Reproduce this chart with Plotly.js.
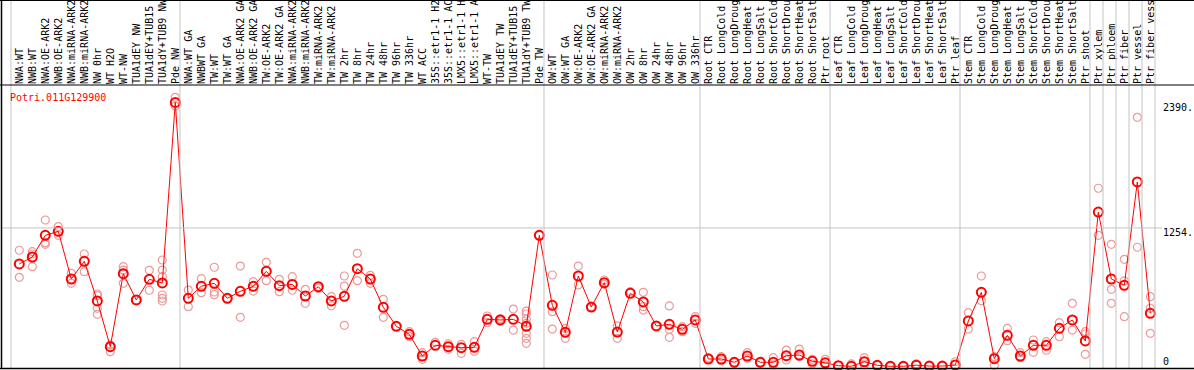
<!DOCTYPE html>
<html>
<head>
<meta charset="utf-8">
<script src="https://cdn.plot.ly/plotly-3.0.1.min.js"></script>
<style>html,body{margin:0;padding:0;background:#fff;}#chart{width:1194px;height:370px;}</style>
</head>
<body>
<div id="chart"></div>
<script>
const chartTitle = 'Potri.011G129900';

const categories = [
  'NWA:WT','NWB:WT','NWA:OE-ARK2','NWB:OE-ARK2','NWA:miRNA-ARK2','NWB:miRNA-ARK2','NW 0hr','WT H2O','WT-NW',
  'TUA1dEY NW','TUA1dEY+TUB15','TUA1dY+TUB9 NW','Pde NW',
  'NWA:WT GA','NWBWT GA','TW:WT','TW:WT GA','NWA:OE-ARK2 GA','NWB:OE-ARK2 GA','TW:OE-ARK2','TW:OE-ARK2 GA',
  'NWA:miRNA-ARK2','NWB:miRNA-ARK2','TW:miRNA-ARK2','TW:miRNA-ARK2','TW 2hr','TW 8hr','TW 24hr','TW 48hr','TW 96hr','TW 336hr',
  'WT ACC','35S::etr1-1 H2','35S::etr1-1 AC','LMX5::etr1-1 H','LMX5::etr1-1 A','WT-TW','TUA1dEY TW','TUA1dEY+TUB15','TUA1dY+TUB9 TW','Pde TW',
  'OW:WT','OW:WT GA','OW:OE-ARK2','OW:OE-ARK2 GA','OW:miRNA-ARK2','OW:miRNA-ARK2','OW 2hr','OW 8hr','OW 24hr','OW 48hr','OW 96hr','OW 336hr',
  'Root CTR','Root LongCold','Root LongDroug','Root LongHeat','Root LongSalt','Root ShortCold','Root ShortDrou','Root ShortHeat','Root ShortSalt','Ptr root',
  'Leaf CTR','Leaf LongCold','Leaf LongDroug','Leaf LongHeat','Leaf LongSalt','Leaf ShortCold','Leaf ShortDrou','Leaf ShortHeat','Leaf ShortSalt','Ptr leaf',
  'Stem CTR','Stem LongCold','Stem LongDroug','Stem LongHeat','Stem LongSalt','Stem ShortCold','Stem ShortDrou','Stem ShortHeat','Stem ShortSalt','Ptr shoot',
  'Ptr xylem','Ptr phloem','Ptr fiber','Ptr vessel','Ptr fiber vess'
];

const meanValues = [
  928, 991, 1187, 1223, 792, 952, 593, 179, 840, 602, 789, 756, 2390,
  617, 726, 753, 617, 680, 726, 861, 731, 743, 638, 722, 593, 635, 885, 792, 536, 364, 291,
  95, 192, 179, 170, 174, 427, 421, 427, 364, 1187,
  554, 309, 819, 538, 759, 312, 662, 584, 367, 382, 336, 421,
  68, 68, 38, 95, 38, 38, 98, 104, 47, 34,
  7, 2, 43, 11, 2, 2, 12, 4, 4, 14,
  412, 671, 71, 282, 95, 192, 192, 346, 421, 231,
  1398, 792, 735, 1670, 481
];

const replicateValues = [
  [1052,807],[1039,1018,903],[1326,1121,1106],[1266,1187],[843,753],[1018,858],[656,641,527,472],[195,134],[903,873,753],
  [602],[870,690],[964,873,813,647,617,593],[2436,2357],
  [692,541],[795,668],[898,674,650],[617],[909,445],[768,683],[943,777],[789,677],[813,690],[698,572],[707],[632,550],
  [819,728,373],[1024,777],[825,753],[608,445],[364],[315,270],[125,65],[219],[204,155],[201,119],[225,138],
  [457,397],[433,409],[520,330],[502,475,427,391,300,255,210],[1187],
  [828,496,339],[345,255],[909,738],[538],[783,744],[367,255],[677],[671,541,511],[367],[548,336,264],[360,315],[451,391],
  [80],[89,52],[38],[125,74],[38],[80,14],[149,59],[158,89],[65,23],[65,14],
  [7],[23],[80,14],[11],[2],[2],[23],[4],[4],[43],
  [487,339],[819,596],[89,11],[345,234],[125,80],[240,128],[225,147],[397,270],[572,330],[315,294,110],
  [1613,1187],[1106,698,572],[970,774,451],[2255,1079],[632,527,300]
];

// last category index of each sample group (-1 = before the first one)
const groupEnds = [-1, 12, 40, 52, 62, 72, 82, 83, 84, 85, 86, 87];

const yLabelValues = [2390, 1254, 0];
const yLabelTexts = ['2390.', '1254.', '0'];
const gridValue = 1254;

const idx = categories.map((_, i) => i);
const repX = [], repY = [];
replicateValues.forEach((arr, i) => arr.forEach(v => { repX.push(i); repY.push(v); }));

const FONT = 'DejaVu Sans Mono, monospace';
const W = 1194, H = 370;
const M = {l: 1, r: 0, t: 85, b: 1};
const PW = W - M.l - M.r, PH = H - M.t - M.b;
const px2paperX = X => (X - M.l) / PW;
const px2paperY = Y => (H - M.b - Y) / PH;

const shapes = [];
groupEnds.forEach(g => {
  shapes.push({type: 'line', xref: 'x', yref: 'paper', x0: g + 0.36, x1: g + 0.36,
    y0: 0, y1: px2paperY(0), line: {color: '#c4c4c4', width: 1}});
});
shapes.push({type: 'line', xref: 'paper', yref: 'y', x0: 0, x1: px2paperX(1162), y0: gridValue, y1: gridValue,
  line: {color: '#c4c4c4', width: 1}});
// frame
shapes.push({type: 'line', xref: 'paper', yref: 'paper', x0: px2paperX(0), x1: 1, y0: px2paperY(0.5), y1: px2paperY(0.5), line: {color: '#000', width: 1}});
shapes.push({type: 'line', xref: 'paper', yref: 'paper', x0: px2paperX(0), x1: 1, y0: 1, y1: 1, line: {color: '#000', width: 1}});
shapes.push({type: 'line', xref: 'paper', yref: 'paper', x0: px2paperX(0), x1: 1, y0: px2paperY(368.5), y1: px2paperY(368.5), line: {color: '#000', width: 1.5}});
shapes.push({type: 'line', xref: 'paper', yref: 'paper', x0: px2paperX(1.5), x1: px2paperX(1.5), y0: px2paperY(369), y1: px2paperY(0), line: {color: '#000', width: 1.5}});

const annotations = [{
  text: chartTitle, xref: 'paper', yref: 'paper', x: px2paperX(8), y: px2paperY(97),
  xanchor: 'left', yanchor: 'middle', showarrow: false, font: {family: FONT, size: 10, color: '#ff0000'}
}];
yLabelValues.forEach((v, k) => {
  annotations.push({text: yLabelTexts[k], xref: 'paper', yref: 'y', x: px2paperX(1161), y: v,
    xanchor: 'left', yanchor: 'middle', yshift: v === 0 ? 5 : -5, showarrow: false,
    font: {family: FONT, size: 10, color: '#000'}});
});

const traces = [
  {x: repX, y: repY, type: 'scatter', mode: 'markers', cliponaxis: false, hoverinfo: 'skip',
   marker: {symbol: 'circle-open', size: 8, color: '#ec9a9a', line: {width: 1.2, color: '#ec9a9a'}}},
  {x: idx, y: meanValues, type: 'scatter', mode: 'lines+markers', cliponaxis: false,
   line: {color: '#ff0000', width: 1},
   marker: {symbol: 'circle-open', size: 9, color: '#ff0000', line: {width: 2, color: '#ff0000'}}}
];

const layout = {
  width: W, height: H, margin: M, showlegend: false,
  paper_bgcolor: '#fff', plot_bgcolor: '#fff',
  xaxis: {range: [-1.4077, 90.36], side: 'top', tickmode: 'array', tickvals: idx, ticktext: categories,
    tickangle: -90, ticks: '', showgrid: false, zeroline: false, showline: false, automargin: false,
    tickfont: {family: FONT, size: 10, color: '#000'}},
  yaxis: {range: [-22.6, 2547.5], showgrid: false, zeroline: false, showline: false, showticklabels: false, ticks: ''},
  shapes: shapes, annotations: annotations
};

Plotly.newPlot('chart', traces, layout, {displayModeBar: false, staticPlot: true});
</script>
</body>
</html>
